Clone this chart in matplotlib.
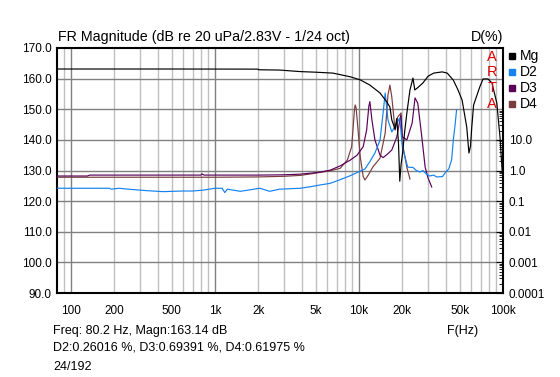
import numpy as np
import matplotlib
matplotlib.use("Agg")
import matplotlib.pyplot as plt
from matplotlib.ticker import FixedLocator, NullFormatter

plt.rcParams['font.family'] = ['Liberation Sans', 'DejaVu Sans']

# magnitude (dB) and distortion components (plotted on the same dB scale)
mg_freq = [80, 500, 1990, 2010, 2800, 3900, 5000, 6600, 8700, 10200, 11900, 14000,
           15600, 16400, 16900, 17800, 18300, 18800, 19200, 19600, 20000, 20800,
           21500, 22600, 23700, 24400, 25500, 27800, 30200, 33000, 37800, 41000,
           45200, 48500, 52000, 56000, 58000, 59500, 60700, 62500, 69000, 72700,
           78600, 83800, 90600, 95300, 98500, 100000]
mg_db = [163.14, 163.14, 163.1, 162.9, 162.8, 162.3, 162.1, 161.8, 160.6, 159.6, 157.9, 155.3,
         152.4, 150.7, 146.5, 143.5, 147, 139, 126.5, 132, 135, 143,
         148.8, 156.3, 160.2, 156.3, 157, 158.6, 160.8, 161.8, 162.2, 161.8,
         159.5, 156.5, 153, 144.2, 135.7, 138, 144.2, 151.4, 157.3, 159.9,
         159.9, 158.6, 152, 140.9, 130.2, 129]

d2_freq = [80, 185, 190, 215, 250, 340, 435, 600, 700, 830, 1000, 1120, 1170, 1220,
           1500, 2050, 2400, 2800, 3900, 4600, 5400, 6300, 7400, 8700, 10200, 11000,
           11900, 12900, 14000, 14700, 15200, 15900, 16900, 18300, 19200, 20000, 21800,
           23700, 25000, 26500, 27800, 29600, 31000, 33000, 34600, 38000, 40000, 42000,
           44000, 45200, 46500, 47600]
d2_db = [124.2, 124.2, 123.9, 124.2, 123.9, 123.4, 123.1, 123.3, 123.3, 123.6, 124.2, 124.2, 122.8, 123.9,
         123.2, 124.2, 123.2, 123.9, 124.2, 124.7, 125.3, 125.8, 127.0, 128.3, 129.8, 130.5,
         132.9, 135.7, 139.9, 148.8, 155.3, 146.5, 142.6, 145.5, 147.1, 137.7, 131.1,
         131.0, 130.0, 129.5, 130.0, 128.7, 128.2, 128.5, 127.9, 128.0, 129.5, 130.5,
         133.5, 140.0, 145.0, 149.8]

d3_freq = [80, 130, 135, 800, 810, 840, 1000, 2000, 3000, 3900, 4800, 5400, 6300, 7400,
           8700, 9700, 10700, 11300, 11700, 11900, 12300, 12900, 14000, 14700, 15900,
           16900, 18300, 19500, 20000, 21500, 23400, 24500, 25600, 27300, 28800, 30200, 32000]
d3_db = [128.2, 128.2, 128.5, 128.5, 128.9, 128.5, 128.5, 128.5, 128.6, 128.8, 129.2, 129.5, 130.1, 131.5,
         133.4, 135.0, 137.8, 143.2, 150.9, 152.5, 146.5, 140.0, 135.0, 134.2, 135.5,
         136.7, 140.9, 148.0, 141.0, 140.0, 145.5, 153.7, 152.0, 141.0, 131.1, 127.5, 124.6]

d4_freq = [80, 1000, 2000, 3000, 3900, 4800, 5400, 6300, 7400, 8300, 8900, 9300, 9400,
           9550, 9900, 10200, 10700, 11000, 11600, 12500, 14000, 15200, 15900, 16400,
           16900, 17800, 18600, 19600, 20000, 21500, 22600]
d4_db = [127.8, 127.8, 127.9, 128.1, 128.4, 129.0, 129.4, 129.9, 130.7, 133.4, 137.8, 149.8, 151.4,
         150.5, 142.1, 134.5, 128.0, 126.9, 128.5, 131.2, 134.0, 142.2, 154.7, 157.9,
         154.0, 143.2, 147.5, 148.8, 139.0, 131.0, 127.2]

x_ticks = [100, 200, 500, 1000, 2000, 5000, 10000, 20000, 50000, 100000]
x_labels = ["100", "200", "500", "1k", "2k", "5k", "10k", "20k", "50k", "100k"]
y_ticks = [90, 100, 110, 120, 130, 140, 150, 160, 170]
d_ticks = [0.0001, 0.001, 0.01, 0.1, 1.0, 10.0]
d_labels = ["0.0001", "0.001", "0.01", "0.1", "1.0", "10.0"]

series = [("Mg", mg_freq, mg_db, "#000000"),
          ("D2", d2_freq, d2_db, "#1482f0"),
          ("D3", d3_freq, d3_db, "#5a005a"),
          ("D4", d4_freq, d4_db, "#7a3c3c")]

W, H = 560, 377
fig = plt.figure(figsize=(W / 100, H / 100), dpi=100)
fig.patch.set_facecolor("white")
ax = fig.add_axes([57 / W, (H - 293) / H, (503 - 57) / W, (293 - 48) / H])

ax.set_xscale("log")
ax.set_xlim(80, 100000)
ax.set_ylim(90, 170)

# grid
minor = [m * 10 ** e for e in range(1, 5) for m in range(2, 10)]
for f in minor:
    if 80 < f < 100000:
        ax.axvline(f, color="#c0c0c0", lw=1.0, zorder=1)
for f in [100, 1000, 10000]:
    ax.axvline(f, color="#808080", lw=1.0, zorder=1)
for y in y_ticks[1:-1]:
    ax.axhline(y, color="#808080", lw=1.0, zorder=1)

for name, fr, db, col in reversed(series):
    ax.plot(fr, db, color=col, lw=0.85, zorder=3)

ax.xaxis.set_minor_formatter(NullFormatter())
ax.set_xticks(x_ticks)
ax.set_xticklabels(x_labels)
ax.set_yticks(y_ticks)
ax.set_yticklabels([f"{v:.1f}" for v in y_ticks])
ax.tick_params(axis="both", which="both", length=0, labelsize=8.5, pad=4)
ax.tick_params(axis="x", pad=9)
for s in ax.spines.values():
    s.set_linewidth(1.5)

# right distortion axis
ax2 = ax.twinx()
ax2.set_yscale("log")
ax2.set_ylim(1e-4, 1e4)
ax2.set_yticks(d_ticks)
ax2.set_yticklabels(d_labels)
dminor = [m * 10.0 ** e for e in range(-4, 2) for m in range(2, 10)]
ax2.yaxis.set_minor_locator(FixedLocator(dminor))
ax2.yaxis.set_minor_formatter(NullFormatter())
ax2.tick_params(axis="y", which="major", direction="in", length=5, labelsize=8.5, pad=4)
ax2.tick_params(axis="y", which="minor", direction="in", length=3)
for s in ax2.spines.values():
    s.set_visible(False)

# texts
fig.text(58 / W, 1 - 37 / H, "FR Magnitude (dB re 20 uPa/2.83V - 1/24 oct)", fontsize=10.3, va="center")
fig.text(471 / W, 1 - 37 / H, "D(%)", fontsize=10.3, va="center")
for i, ch in enumerate("ARTA"):
    fig.text(492 / W, 1 - (57 + i * 15.5) / H, ch, fontsize=10.5, color="#e00000", ha="center", va="center")

for i, (name, fr, db, col) in enumerate(series):
    yy = 1 - (56 + i * 16) / H
    fig.patches.append(plt.Rectangle((509 / W, yy - 3 / H), 6 / W, 6 / H, color=col,
                                     transform=fig.transFigure, figure=fig))
    fig.text(520 / W, yy, name, fontsize=10, va="center")

fig.text(53 / W, 1 - 331 / H, "Freq: 80.2 Hz, Magn:163.14 dB", fontsize=9, va="center")
fig.text(447 / W, 1 - 331 / H, "F(Hz)", fontsize=9, va="center")
fig.text(53 / W, 1 - 347 / H, "D2:0.26016 %, D3:0.69391 %, D4:0.61975 %", fontsize=9, va="center")
fig.text(53 / W, 1 - 367 / H, "24/192", fontsize=9, va="center")

fig.savefig("out.png", dpi=100)
